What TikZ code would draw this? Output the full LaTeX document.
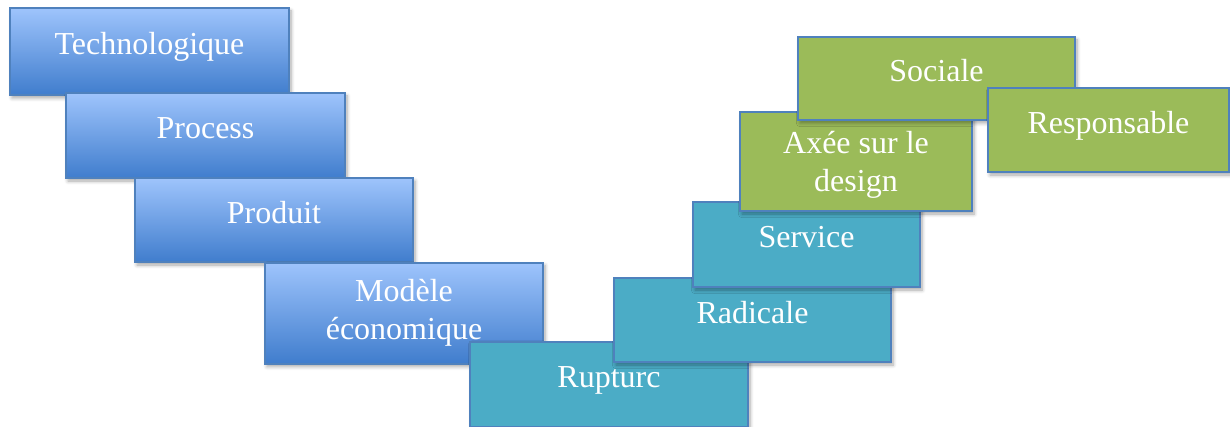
\documentclass[tikz,border=0pt]{standalone}
\usepackage{fontspec}
\setmainfont{Liberation Serif}
\usepackage{xcolor}
\usetikzlibrary{shadows.blur}
\definecolor{edgeblue}{RGB}{79,129,189}
\definecolor{lightblue}{RGB}{158,196,252}
\definecolor{darkblue}{RGB}{64,125,205}
\definecolor{teal}{RGB}{75,172,198}
\definecolor{olive}{RGB}{155,187,89}

\begin{document}
\begin{tikzpicture}[x=0.5pt, y=-0.5pt,
    every node/.style={align=center, font=\fontsize{16}{18.8}\selectfont},
    stage/.style={draw=edgeblue, line width=1pt, rectangle, text=white,
      minimum width=139pt, minimum height=42.5pt, inner sep=0pt,
      blur shadow={shadow xshift=1pt, shadow yshift=-1.5pt, shadow blur steps=6, shadow opacity=35}},
    oneline/.style={text height=12pt, text depth=8.5pt},
    bluestage/.style={stage, top color=lightblue, bottom color=darkblue},
    tealstage/.style={stage, fill=teal},
    greenstage/.style={stage, fill=olive}]
    \useasboundingbox (0,0) rectangle (1230,427);

    % blue steps going down
    \node(tech) [bluestage, oneline, minimum width=139.5pt, minimum height=43.5pt] at (149.5, 51.5) {Technologique};
    \node(proc) [bluestage, oneline, minimum width=139.5pt] at (205.5, 135.5) {Process};
    \node(prod) [bluestage, oneline, minimum height=42pt] at (274, 220) {Produit};
    \node(mod) [bluestage, minimum height=50.5pt] at (404, 313) {Modèle\\économique};

    % teal steps going up
    \node(rupt) [tealstage, oneline] at (609, 384) {Rupturc};
    \node(rad) [tealstage, oneline, minimum width=138.5pt, minimum height=42pt] at (752.5, 320) {Radicale};
    \node(serv) [tealstage, oneline, minimum width=113.5pt] at (806.5, 244.5) {Service};

    % green steps
    \node(design) [greenstage, minimum width=116pt, minimum height=49.5pt] at (856, 161.5) {\rule{0pt}{14.5pt}Axée sur le\\design};
    \node(soc) [greenstage, oneline, minimum width=138.5pt, minimum height=41.5pt] at (936.5, 78.5) {Sociale};
    \node(resp) [greenstage, oneline, minimum width=120.5pt, minimum height=42pt] at (1108.5, 130) {Responsable};
  \end{tikzpicture}
\end{document}
